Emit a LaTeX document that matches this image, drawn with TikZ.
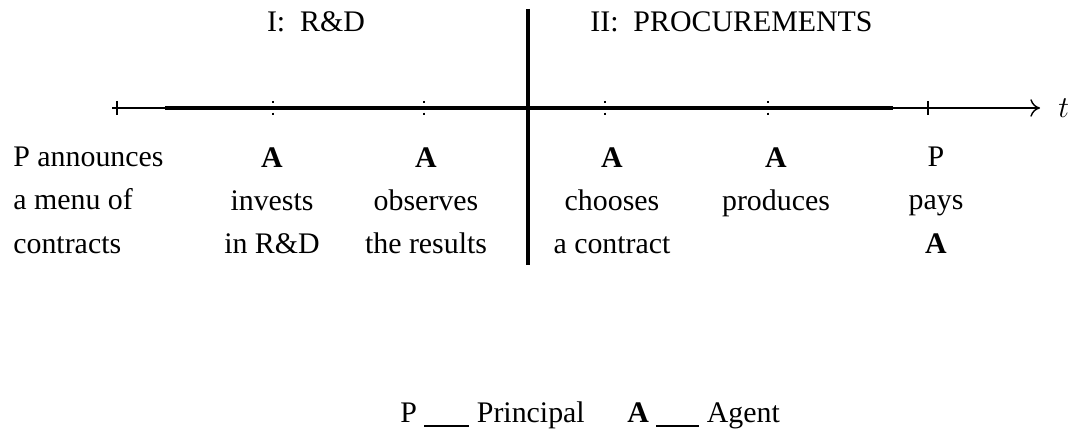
\documentclass[tikz,border=0pt]{standalone}
\usepackage{fontspec}
\setmainfont{Liberation Serif}
\usetikzlibrary{arrows.meta}

\begin{document}
\begin{tikzpicture}[
    every node/.style={font=\fontsize{17}{24.5}\selectfont, inner sep=0pt},
    event/.style={align=center, anchor=north},
    thinaxis/.style={line width=0.8pt},
    thickaxis/.style={line width=2.4pt},
    dotstick/.style={line width=0.9pt, dash pattern=on 1.4pt off 5.2pt on 1.4pt off 10pt},
    >={To[length=5.5pt,width=10pt]}
  ]
  \useasboundingbox (0,0) rectangle (21.48,8.72);
  % time axis
  \coordinate (left) at (2.24,6.56);
  \coordinate (first) at (3.3,6.56);
  \coordinate (last) at (17.86,6.56);
  \coordinate (right) at (20.8,6.56);
  \draw[thinaxis] (left) -- (first);
  \draw[thickaxis] (first) -- (last);
  \draw[thinaxis,->] (last) -- (right);
  \node[anchor=west] (t) at ([xshift=0.36cm]right) {$t$};
  % routine for ticks
  \draw[thinaxis] (2.34,6.70) -- (2.34,6.42);
  \draw[dotstick] (5.46,6.70) -- (5.46,6.42);
  \draw[dotstick] (8.48,6.70) -- (8.48,6.42);
  \draw[dotstick] (12.10,6.70) -- (12.10,6.42);
  \draw[dotstick] (15.36,6.70) -- (15.36,6.42);
  \draw[thinaxis] (18.56,6.70) -- (18.56,6.42);
  % phase divider
  \coordinate (divtop) at (10.56,8.54);
  \coordinate (divbot) at (10.56,3.42);
  \draw[thickaxis] (divtop) -- (divbot);
  \node[anchor=base] (phaseone) at (6.32,8.08) {I:\ \ R\&D};
  \node[anchor=base west] (phasetwo) at (11.8,8.08) {II:\ \ PROCUREMENTS};
  % events
  \node[event, align=left, anchor=north west] (announce) at (0.26,5.78) {P announces\\a menu of\\contracts};
  \node[event] (invest) at (5.44,5.78) {\textbf{A}\\invests\\in R\&D};
  \node[event] (observe) at (8.52,5.78) {\textbf{A}\\observes\\the results};
  \node[event] (choose) at (12.24,5.78) {\textbf{A}\\chooses\\a contract};
  \node[event] (produce) at (15.52,5.78) {\textbf{A}\\produces};
  \node[event] (pay) at (18.72,5.78) {P\\pays\\\textbf{A}};
  % legend
  \node[anchor=base west] (legprincipal) at (8.0,0.26) {P \rule[-2pt]{0.9cm}{1.1pt} Principal};
  \node[anchor=base west] (legagent) at (12.54,0.26) {\textbf{A} \rule[-2pt]{0.86cm}{1.1pt} Agent};
\end{tikzpicture}
\end{document}
